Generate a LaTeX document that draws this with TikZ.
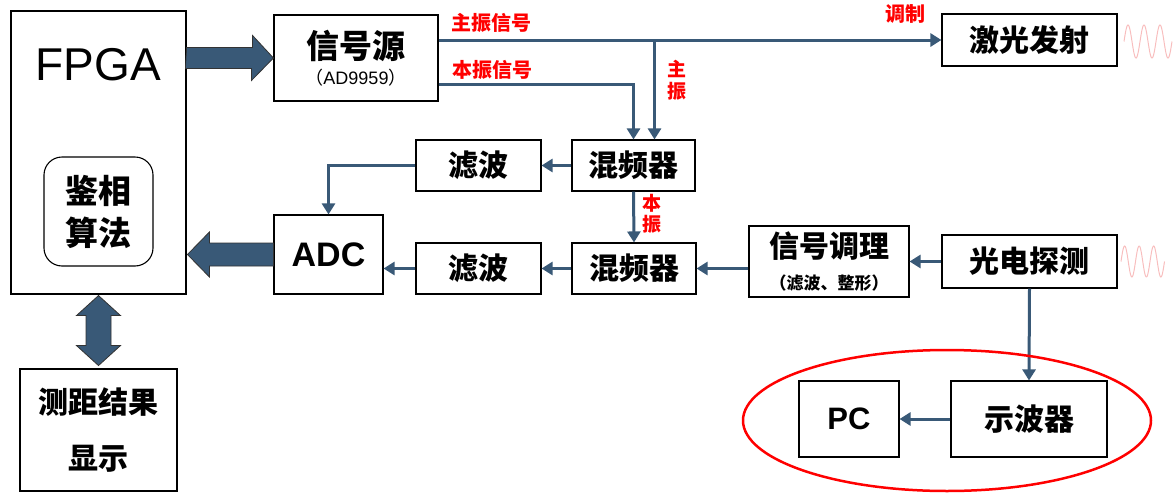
\documentclass[tikz,border=0pt]{standalone}
\usepackage{fontspec}
\setmainfont{Liberation Sans}
\newfontfamily\cjk{Noto Sans CJK SC}
\usetikzlibrary{arrows.meta}
\definecolor{linkblue}{RGB}{57,89,119}
\definecolor{wavepink}{RGB}{248,190,190}

\begin{document}
\begin{tikzpicture}[x=1pt, y=-1pt, >={Triangle[length=11pt,width=13pt]}]
    \tikzstyle{boxed}=[draw=black, line width=1.1pt, align=center, inner sep=0pt,
      font=\cjk\bfseries\fontsize{30}{36}\selectfont]
    \tikzstyle{link}=[draw=linkblue, line width=3pt, ->]
    \tikzstyle{fat}=[fill=linkblue, draw=black!80, line width=0.8pt]
    \tikzstyle{tag}=[text=red, align=center, inner sep=0pt,
      font=\cjk\bfseries\fontsize{20}{21}\selectfont]
    \useasboundingbox (0,0) rectangle (1176,498);

    % left column
    \node[boxed, minimum width=175pt, minimum height=283pt] (fpga) at (98.5,152.5) {};
    \node[font=\fontsize{46}{50}\selectfont] (fpganame) at (98.5,65) {FPGA};
    \node[boxed, rounded corners=18pt, minimum width=109pt, minimum height=109pt,
      font=\cjk\bfseries\fontsize{33}{42}\selectfont] (algo) at (98.5,211.5) {鉴相\\算法};
    \node[boxed, minimum width=157pt, minimum height=122pt,
      font=\cjk\bfseries\fontsize{30}{56}\selectfont] (disp) at (98.5,430) {测距结果\\显示};

    % blocks
    \node[boxed, minimum width=164pt, minimum height=86pt,
      font=\cjk\bfseries\fontsize{33}{36}\selectfont] (src) at (356,58)
      {信号源\\[-10pt]{\fontsize{18}{20}\selectfont\mdseries（\rmfamily AD9959\cjk）}};
    \node[boxed, minimum width=175pt, minimum height=52pt] (laser) at (1029.5,40) {激光发射};
    \node[boxed, minimum width=125pt, minimum height=51pt] (filtA) at (478.5,165.5) {滤波};
    \node[boxed, minimum width=123pt, minimum height=51pt] (mixA) at (633.5,165.5) {混频器};
    \node[boxed, minimum width=109pt, minimum height=79pt,
      font=\bfseries\fontsize{34}{40}\selectfont] (adc) at (328.5,254.5) {ADC};
    \node[boxed, minimum width=125pt, minimum height=51pt] (filtB) at (478.5,268.5) {滤波};
    \node[boxed, minimum width=124pt, minimum height=51pt] (mixB) at (634,268.5) {混频器};
    \node[boxed, minimum width=160pt, minimum height=71pt] (cond) at (829,261.5)
      {信号调理\\[-4pt]{\fontsize{17}{20}\selectfont（滤波、整形）}};
    \node[boxed, minimum width=175pt, minimum height=53pt] (det) at (1029.5,261.5) {光电探测};
    \node[boxed, minimum width=100pt, minimum height=76pt,
      font=\bfseries\fontsize{31}{36}\selectfont] (pc) at (849,419) {PC};
    \node[boxed, minimum width=156pt, minimum height=76pt] (osc) at (1029,419) {示波器};

    % fat arrows
    \path[fat] (fpga.east |- src.west) ++(0,-10.5) -- ++(66,0) -- ++(0,-12)
      -- (src.west) -- ++(-22,22.5) -- ++(0,-12) -- ++(-66,0) -- cycle;
    \path[fat] (adc.west) ++(0,-11.5) -- ++(-64,0) -- ++(0,-11) -- ++(-22,22.5)
      -- ++(22,22.5) -- ++(0,-11) -- ++(64,0) -- cycle;
    \path[fat] (fpga.south) ++(0,1) -- ++(22,20) -- ++(-9.5,0) -- ++(0,30)
      -- ++(9.5,0) -- ++(-22,20) -- ++(-22,-20) -- ++(9.5,0) -- ++(0,-30)
      -- ++(-9.5,0) -- cycle;

    % signal links
    \draw[link] (src.east |- laser.west) -- (laser.west);
    \draw[link] ([xshift=21pt]mixA.north |- laser.west) -- ([xshift=21pt]mixA.north);
    \draw[link] ([yshift=-26pt]src.east) -| (mixA.north);
    \draw[link] (mixA.west) -- (filtA.east);
    \draw[link] (filtA.west) -| (adc.north);
    \draw[link] (mixA.south) -- (mixB.north);
    \draw[link] (det.west) -- (cond.east);
    \draw[link] (cond.west |- mixB.east) -- (mixB.east);
    \draw[link] (mixB.west) -- (filtB.east);
    \draw[link] (filtB.west) -- (filtB.west -| adc.east);
    \draw[link] (det.south) -- (osc.north);
    \draw[link] (osc.west) -- (pc.east);

    % red labels
    \node[tag] (mainlbl) at (491,22.5) {主振信号};
    \node[tag] (lolbl) at (492,70) {本振信号};
    \node[tag] (modlbl) at (905,14) {调制};
    \node[tag, font=\cjk\bfseries\fontsize{19}{22}\selectfont] (mainv) at (677,80) {主\\振};
    \node[tag, font=\cjk\bfseries\fontsize{19}{21}\selectfont] (lov) at (652,214) {本\\振};

    % test group and light waves
    \draw[red, line width=2.5pt] (947,420.5) ellipse [x radius=204pt, y radius=70.5pt];
    \draw[wavepink, line width=1pt, domain=0:48, samples=120]
      plot ({1124+\x}, {41.5-16.5*sin(22.5*\x)});
    \draw[wavepink, line width=1pt, domain=0:43.5, samples=120]
      plot ({1121+\x}, {261.5-15.5*sin(24.83*\x)});
\end{tikzpicture}
\end{document}
